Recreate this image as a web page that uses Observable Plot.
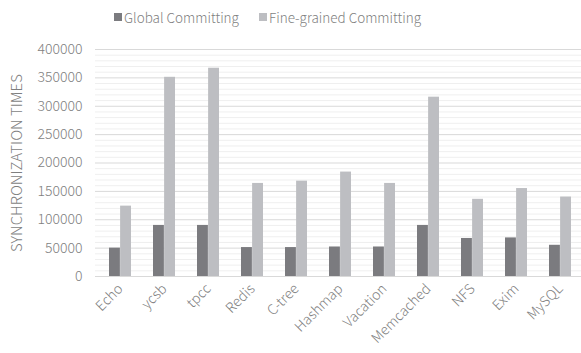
<!DOCTYPE html>
<html>
<head>
<meta charset="utf-8">
<script src="https://cdn.jsdelivr.net/npm/d3@7"></script>
<script src="https://cdn.jsdelivr.net/npm/@observablehq/plot@0.6"></script>
<style>
  html, body { margin: 0; padding: 0; background: #fff; }
  body { width: 581px; height: 353px; overflow: hidden; font-family: "Noto Sans CJK SC", "Noto Sans", sans-serif; font-weight: 300; }
  #legend { position: relative; height: 36px; font-size: 13.5px; color: #7f7f7f; }
  .item { position: absolute; top: 7px; display: flex; align-items: center; white-space: nowrap; }
  .sw { width: 8px; height: 8px; margin-right: 2px; display: inline-block; }
  svg text { font-weight: 300; }
</style>
</head>
<body>
<div id="legend"></div>
<div id="chart"></div>
<script>
const categories = ["Echo", "ycsb", "tpcc", "Redis", "C-tree", "Hashmap", "Vacation", "Memcached", "NFS", "Exim", "MySQL"];
const seriesNames = ["Global Committing", "Fine-grained Committing"];
const globalValues = [50000, 90000, 90000, 51000, 51000, 52000, 52000, 90000, 67000, 68000, 55000];
const fineValues = [124000, 351000, 367000, 164000, 168000, 184000, 164000, 316000, 136000, 155000, 140000];
const yTicks = [0, 50000, 100000, 150000, 200000, 250000, 300000, 350000, 400000];
const colors = ["#7b7b7f", "#bdbec2"];

const globalData = categories.map((c, i) => ({category: c, value: globalValues[i]}));
const fineData = categories.map((c, i) => ({category: c, value: fineValues[i]}));
const minorTicks = d3.range(0, 400001, 10000).filter(v => v % 50000 !== 0);

// legend
const legend = document.getElementById("legend");
const lx = [114, 259];
seriesNames.forEach((s, i) => {
  const it = document.createElement("div");
  it.className = "item";
  it.style.left = lx[i] + "px";
  it.innerHTML = `<span class="sw" style="background:${colors[i]}"></span><span>${s}</span>`;
  legend.appendChild(it);
});

const W = 581, H = 317;
const bandStep = 44.45;
const inset = bandStep * 0.25;

const chart = Plot.plot({
  width: W,
  height: H,
  marginTop: 13,
  marginBottom: 77,
  marginLeft: 95,
  marginRight: 0,
  style: {fontFamily: '"Noto Sans CJK SC", "Noto Sans", sans-serif', fontSize: "14px", color: "#7f7f7f", background: "#fff", overflow: "visible"},
  x: {domain: categories, range: [95, 584], paddingInner: 0.5, paddingOuter: 0.25, label: null},
  y: {domain: [0, 400000], label: null},
  marks: [
    Plot.ruleY(minorTicks, {stroke: "#efefef", strokeWidth: 1}),
    Plot.ruleY(yTicks.filter(v => v > 0), {stroke: "#d9d9d9", strokeWidth: 1}),
    Plot.barY(globalData, {x: "category", y: "value", fill: colors[0], insetRight: inset}),
    Plot.barY(fineData, {x: "category", y: "value", fill: colors[1], insetLeft: inset}),
    Plot.ruleY([0], {stroke: "#d9d9d9", strokeWidth: 1}),
    Plot.axisY({ticks: yTicks, tickFormat: d3.format("d"), tickSize: 0, tickPadding: 13, fontSize: 14, label: null}),
    Plot.axisX({tickSize: 0, tickRotate: -45, tickPadding: 10, fontSize: 14, label: null}),
    Plot.text(["SYNCHRONIZATION TIMES"], {frameAnchor: "left", textAnchor: "middle", dx: -78, rotate: -90, fontSize: 15, fill: "#7f7f7f"})
  ]
});
document.getElementById("chart").appendChild(chart);
</script>
</body>
</html>
